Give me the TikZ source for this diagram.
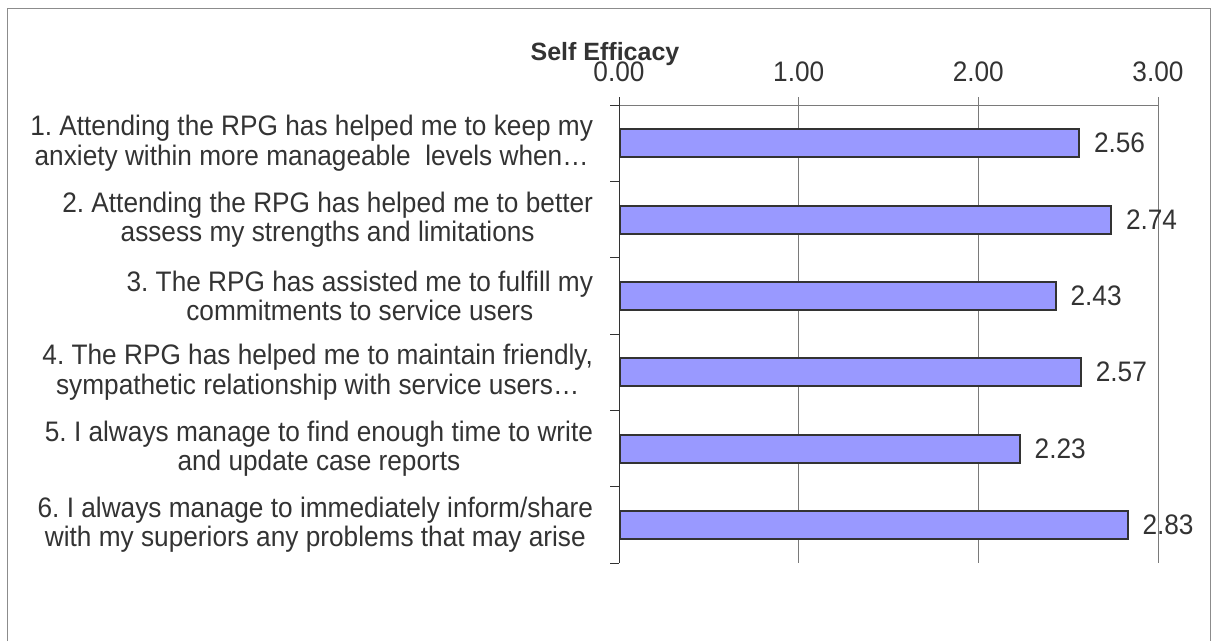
\documentclass[tikz,border=0pt]{standalone}
\usepackage{fontspec}
\setmainfont{Liberation Sans}
\newfontfamily\chartsans[FakeStretch=0.93]{Liberation Sans}
\usetikzlibrary{positioning}
\definecolor{barblue}{HTML}{9999FF}
\definecolor{inkgray}{HTML}{333333}
\definecolor{gridgray}{HTML}{7A7A7A}
\definecolor{framegray}{HTML}{8C8C8C}
\frenchspacing

\begin{document}
\begin{tikzpicture}[x=1pt,y=-1pt,
    every node/.style={font=\chartsans\fontsize{28.2}{29.5}\selectfont,text=inkgray,inner sep=0pt,outer sep=0pt},
    bar/.style={draw=inkgray,line width=2pt,fill=barblue,minimum height=28pt,anchor=west},
    item/.style={align=center,anchor=east},
    tick/.style={anchor=base},
    axis/.style={draw=inkgray,line width=1pt},
    grid/.style={draw=gridgray,line width=1pt},
    frame/.style={draw=framegray,line width=1pt}]
    \useasboundingbox (0,0) rectangle (1212,641);
    \draw[frame] (7,641) |- (1210,8) -- (1210,641);

    % title and value axis
    \node[font=\bfseries\fontsize{25}{30}\selectfont,anchor=base] (title) at (605,60) {Self Efficacy};
    \node[tick] (t0) at (619,81) {0.00};
    \node[tick] (t1) at (798.7,81) {1.00};
    \node[tick] (t2) at (978.3,81) {2.00};
    \node[tick] (t3) at (1158,81) {3.00};
    \draw[grid] (610,105) -- (1158,105);
    \draw[grid] (798.7,97) -- (798.7,563)
                (978.3,97) -- (978.3,563)
                (1158,97) -- (1158,563);
    \draw[axis] (619,97) -- (619,563);
    \draw[axis] (610,105) -- (619,105)
                (610,181.3) -- (619,181.3)
                (610,257.7) -- (619,257.7)
                (610,334) -- (619,334)
                (610,410.3) -- (619,410.3)
                (610,486.7) -- (619,486.7)
                (610,563) -- (619,563);

    % bars
    \node[bar,minimum width=459pt] (b1) at (620,143.2) {};
    \node[bar,minimum width=491pt] (b2) at (620,219.5) {};
    \node[bar,minimum width=435.6pt] (b3) at (620,295.8) {};
    \node[bar,minimum width=460.8pt] (b4) at (620,372.2) {};
    \node[bar,minimum width=399.7pt] (b5) at (620,448.5) {};
    \node[bar,minimum width=507.5pt] (b6) at (620,524.8) {};
    \node[right=15pt of b1] (v1) {2.56};
    \node[right=15pt of b2] (v2) {2.74};
    \node[right=15pt of b3] (v3) {2.43};
    \node[right=15pt of b4] (v4) {2.57};
    \node[right=15pt of b5] (v5) {2.23};
    \node[right=15pt of b6] (v6) {2.83};

    % category labels
    \node[item] (q1) at (593,143.2) {1. Attending the RPG has helped me to keep my\\anxiety within more manageable\ \ levels when…};
    \node[item] (q2) at (593,219.5) {2. Attending the RPG has helped me to better\\assess my strengths and limitations};
    \node[item] (q3) at (593,295.8) {3. The RPG has assisted me to fulfill my\\commitments to service users};
    \node[item] (q4) at (593,372.2) {4. The RPG has helped me to maintain friendly,\\sympathetic relationship with service users…};
    \node[item] (q5) at (593,448.5) {5. I always manage to find enough time to write\\and update case reports};
    \node[item] (q6) at (593,524.8) {6. I always manage to immediately inform/share\\with my superiors any problems that may arise};
\end{tikzpicture}
\end{document}
